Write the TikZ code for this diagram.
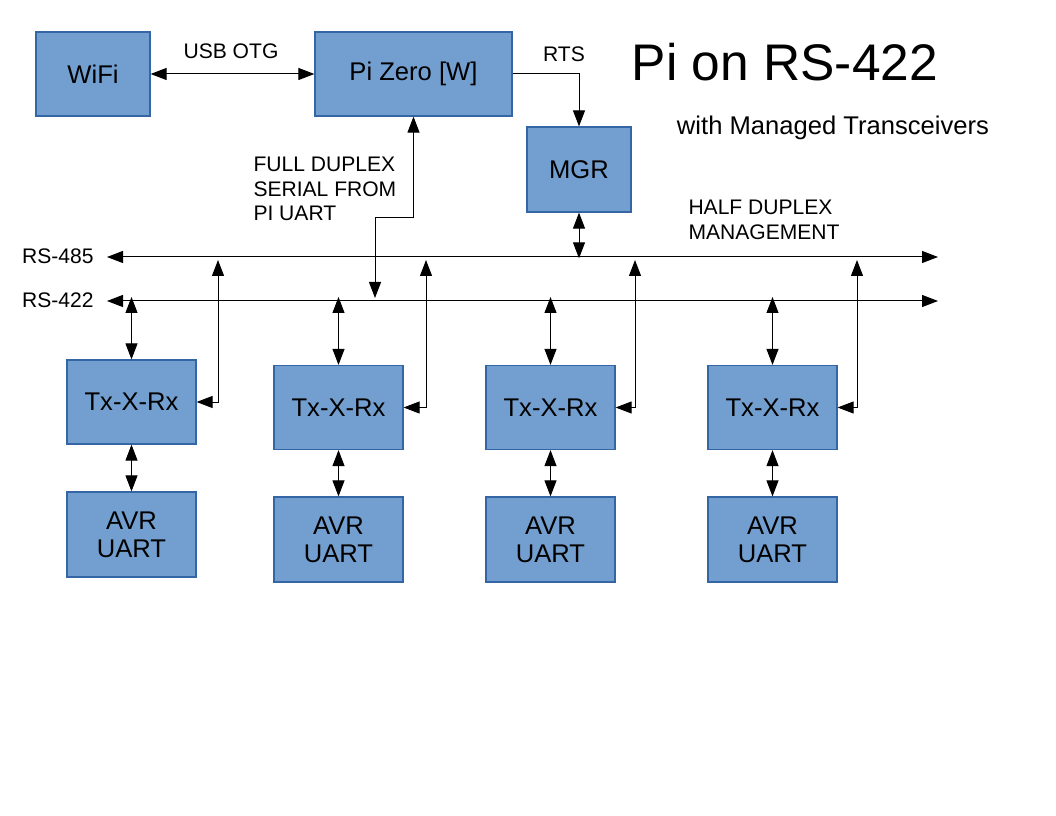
\documentclass[tikz,border=0pt]{standalone}
\usepackage{fontspec}
\setmainfont{Liberation Sans}
\usepackage{xcolor}
\usetikzlibrary{arrows.meta,positioning}
\definecolor{boxfill}{HTML}{729FCF}
\definecolor{boxline}{HTML}{3465A4}

\begin{document}
\begin{tikzpicture}[x=0.75pt,y=-0.75pt,line width=0.75pt,
	>={Triangle[length=12pt,width=9pt]},
	block/.style={draw=boxline,fill=boxfill,line width=0.9pt,minimum height=63pt,
		font=\fontsize{19.2}{21}\selectfont,align=center,inner sep=0pt},
	txbox/.style={block,minimum width=96.75pt},
	lbl/.style={font=\fontsize{15.8}{18.3}\selectfont,inner sep=0pt}]
	\useasboundingbox[fill=white] (0,0) rectangle (1056,816);
	%
	\node[block,minimum width=85.5pt] (wifi) at (93,74) {WiFi};
	\node[block,minimum width=147.75pt] (pi) at (413.5,74) {Pi Zero [W]};
	\node[block,minimum width=78pt,minimum height=63.75pt] (mgr) at (579,169.5) {MGR};
	%
	\node[txbox] (tx1) at (131.5,402) {Tx-X-Rx};
	\node[txbox] (tx2) at (338.5,407.5) {Tx-X-Rx};
	\node[txbox] (tx3) at (550.5,407.5) {Tx-X-Rx};
	\node[txbox] (tx4) at (772.5,407.5) {Tx-X-Rx};
	\node[txbox,minimum height=63.75pt] (avr1) at (131.5,534.5) {AVR\\UART};
	\node[txbox,minimum height=63.75pt] (avr2) at (338.5,539.5) {AVR\\UART};
	\node[txbox,minimum height=63.75pt] (avr3) at (550.5,539.5) {AVR\\UART};
	\node[txbox,minimum height=63.75pt] (avr4) at (772.5,539.5) {AVR\\UART};
	%
	\node[font=\fontsize{38.6}{40}\selectfont,inner sep=0pt] (title) at (785,62) {Pi on RS-422};
	\node[font=\fontsize{19.2}{21}\selectfont,inner sep=0pt] (subtitle) at (833,128) {with Managed Transceivers};
	\node[lbl] (usb) at (231,51) {USB OTG};
	\node[lbl] (rts) at (564,54) {RTS};
	\node[lbl,anchor=north west,align=left] (fdx) at (253,157) {FULL DUPLEX\\SERIAL FROM\\PI UART};
	\node[lbl,anchor=north west,align=left] (hdx) at (688,200) {HALF DUPLEX\\MANAGEMENT};
	\node[lbl,anchor=east] (rs485) at (94,256) {RS-485};
	\node[lbl,anchor=east] (rs422) at (94,300) {RS-422};
	%
	\coordinate (bus485w) at (107,257);
	\coordinate (bus485e) at (938,257);
	\coordinate (bus422w) at (107,301);
	\coordinate (bus422e) at (938,301);
	\coordinate (fdturn) at (375,218);
	\coordinate (fdend) at (375,298);
	%
	\draw [<->] (bus485w) -- (bus485e);
	\draw [<->] (bus422w) -- (bus422e);
	\draw [<->] (wifi) -- (pi);
	\draw [->] (pi.east) -| (mgr.north);
	\draw [<->] (pi.south) |- (fdturn) -- (fdend);
	\draw [<->] (mgr.south) -- ([yshift=-1]mgr.south |- bus485w);
	%
	\foreach \i/\x in {1/218,2/426,3/635,4/857} {
		\draw [<->] (tx\i.north) -- ([yshift=3]tx\i.north |- bus422w);
		\draw [<->] (tx\i.east) -| (\x,260);
		\draw [<->] (tx\i) -- (avr\i);
	}
\end{tikzpicture}
\end{document}
